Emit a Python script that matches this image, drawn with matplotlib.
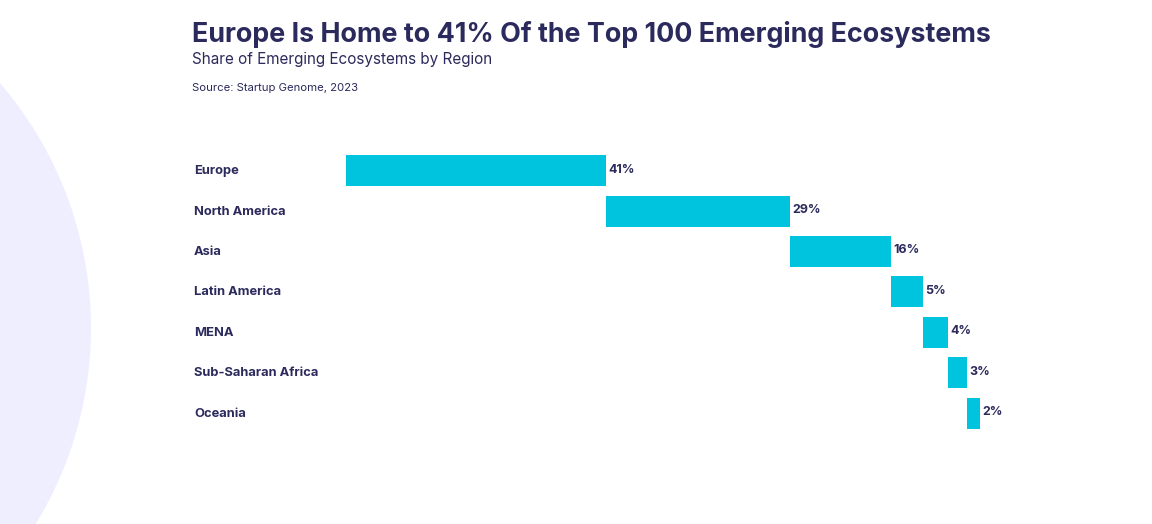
import numpy as np
import matplotlib
matplotlib.use('Agg')
import matplotlib.pyplot as plt
from matplotlib.patches import Circle

regions = ['Europe', 'North America', 'Asia', 'Latin America', 'MENA',
           'Sub-Saharan Africa', 'Oceania']
shares = [41, 29, 16, 5, 4, 3, 2]

NAVY = '#2b2a5c'
CYAN = '#00c4de'
W, H = 1152, 524

plt.rcParams['font.family'] = ['Inter', 'DejaVu Sans']

fig = plt.figure(figsize=(W/100, H/100), dpi=100, facecolor='white')

# -- background circle, in figure pixels
bg = fig.add_axes([0, 0, 1, 1], zorder=0)
bg.set_xlim(0, W)
bg.set_ylim(H, 0)
bg.axis('off')
bg.add_patch(Circle((-284, 328), 375, color='#efeeff', lw=0))

# -- waterfall bars: 0..100 spans x=346..980, rows centred 170.5..413
ax = fig.add_axes([346/W, 1-433.25/H, 634/W, 282.75/H], zorder=1)
ax.patch.set_alpha(0)
y = np.arange(len(regions))
left = np.cumsum([0] + shares[:-1])
ax.barh(y, shares, left=left, height=31/40.4, color=CYAN)
ax.set_xlim(0, 100)
ax.set_ylim(len(regions)-0.5, -0.5)
ax.axis('off')

for yi, l, s, name in zip(y, left, shares, regions):
    ax.annotate(f'{s}%', (l+s, yi), xytext=(2.5, 1), textcoords='offset pixels',
                va='center', ha='left', fontsize=9, fontweight='bold', color=NAVY)
    ax.annotate(name, (0, yi), xytext=(-152, -0.5), textcoords='offset pixels',
                va='center', ha='left', fontsize=9.3, fontweight='bold', color=NAVY)

fig.text(192/W, 1-34.5/H, 'Europe Is Home to 41% Of the Top 100 Emerging Ecosystems',
         fontsize=19.37, fontweight='bold', color=NAVY, va='center')
fig.text(192/W, 1-59.5/H, 'Share of Emerging Ecosystems by Region',
         fontsize=11, color=NAVY, va='center')
fig.text(192/W, 1-88/H, 'Source: Startup Genome, 2023',
         fontsize=8.15, color=NAVY, va='center')

fig.savefig('out.png', dpi=100)
